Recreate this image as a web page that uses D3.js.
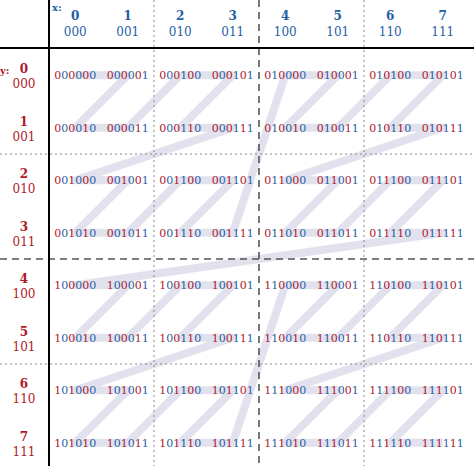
<!DOCTYPE html>
<html><head><meta charset="utf-8">
<script src="https://cdn.jsdelivr.net/npm/d3@7"></script>
<style>body{margin:0;background:#fff}</style>
</head><body>
<svg id="c" width="474" height="466"></svg>
<script>
var xs = [0, 1, 2, 3, 4, 5, 6, 7];
var ys = [0, 1, 2, 3, 4, 5, 6, 7];
var bits = function(n){ return ("00" + n.toString(2)).slice(-3); };
var RED = "#b0182a", BLUE = "#1f5fa6";

var svg = d3.select("#c");
var x = d3.scaleLinear().domain([-0.5, 7.5]).range([49, 469]);
var y = d3.scaleLinear().domain([-0.5, 7.5]).range([49, 469]);

function morton(cx, cy){
  var s = "";
  var bx = bits(cx), by = bits(cy);
  for (var i = 0; i < 3; i++) s += by[i] + bx[i];
  return s;
}

// z-order path
var pts = [];
for (var i = 0; i < 64; i++) {
  var cx = 0, cy = 0;
  for (var b = 0; b < 3; b++) {
    cx |= ((i >> (2 * b)) & 1) << b;
    cy |= ((i >> (2 * b + 1)) & 1) << b;
  }
  pts.push([cx, cy]);
}
svg.append("path")
  .attr("d", d3.line().x(function(d){return x(d[0]);}).y(function(d){return y(d[1]);})(pts))
  .attr("fill", "none").attr("stroke", "#e2e2ee").attr("stroke-width", 8)
  .attr("stroke-linejoin", "round");

// grid dividers
[[1.5, "2,3", 1, "#888"], [3.5, "7,5", 1.6, "#555"], [5.5, "2,3", 1, "#888"]].forEach(function(g){
  svg.append("line").attr("x1", x(g[0])).attr("x2", x(g[0])).attr("y1", 0).attr("y2", 466)
    .attr("stroke", g[3]).attr("stroke-width", g[2]).attr("stroke-dasharray", g[1]);
  svg.append("line").attr("y1", y(g[0])).attr("y2", y(g[0])).attr("x1", 0).attr("x2", 474)
    .attr("stroke", g[3]).attr("stroke-width", g[2]).attr("stroke-dasharray", g[1]);
});
svg.append("line").attr("x1", 49).attr("x2", 49).attr("y1", 0).attr("y2", 466).attr("stroke", "#000").attr("stroke-width", 2);
svg.append("line").attr("x1", 0).attr("x2", 474).attr("y1", 48).attr("y2", 48).attr("stroke", "#000").attr("stroke-width", 2);

var font = "DejaVu Serif";
// cells
ys.forEach(function(cy){
  xs.forEach(function(cx){
    var t = svg.append("text").attr("x", x(cx)).attr("y", y(cy) + 4)
      .attr("text-anchor", "middle").attr("font-family", font).attr("font-size", 11);
    morton(cx, cy).split("").forEach(function(ch, k){
      t.append("tspan").attr("fill", k % 2 ? BLUE : RED).text(ch);
    });
  });
});

// headers
svg.append("text").attr("x", 52).attr("y", 11).attr("fill", BLUE).attr("font-family", font)
  .attr("font-size", 10).attr("font-weight", "bold").text("x:");
xs.forEach(function(cx){
  svg.append("text").attr("x", x(cx)).attr("y", 20).attr("text-anchor", "middle").attr("fill", BLUE)
    .attr("font-family", font).attr("font-size", 12).attr("font-weight", "bold").text(cx);
  svg.append("text").attr("x", x(cx)).attr("y", 36).attr("text-anchor", "middle").attr("fill", BLUE)
    .attr("font-family", font).attr("font-size", 12).text(bits(cx));
});
svg.append("text").attr("x", 0).attr("y", 74).attr("fill", RED).attr("font-family", font)
  .attr("font-size", 10).attr("font-weight", "bold").text("y:");
ys.forEach(function(cy){
  svg.append("text").attr("x", 24).attr("y", y(cy) - 2).attr("text-anchor", "middle").attr("fill", RED)
    .attr("font-family", font).attr("font-size", 12).attr("font-weight", "bold").text(cy);
  svg.append("text").attr("x", 24).attr("y", y(cy) + 13).attr("text-anchor", "middle").attr("fill", RED)
    .attr("font-family", font).attr("font-size", 12).text(bits(cy));
});
</script>
</body></html>
